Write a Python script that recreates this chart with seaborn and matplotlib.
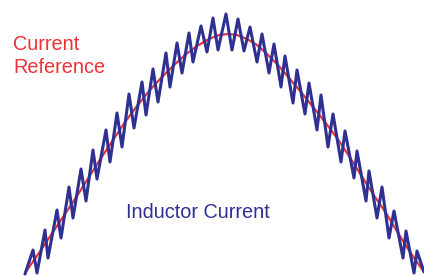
import matplotlib
matplotlib.use("Agg")
import matplotlib.pyplot as plt
import seaborn as sns
import pandas as pd

# current reference (smooth curve)
ref_t = [25, 41, 53, 65, 77, 89, 101, 113, 125, 137, 149, 161, 173, 185, 197, 209,
         219, 228, 237, 247, 257, 267, 278, 289, 301, 313, 325, 337, 349, 361, 373,
         386, 398, 410, 424]
ref_i = [3, 26, 44, 62, 80, 99, 118, 136, 154, 170, 185, 198, 210, 221, 230, 237,
         241, 242, 241, 237, 231, 222, 211, 198, 184, 169, 154, 138, 120, 101, 82,
         63, 43, 24, 4]

# inductor current ripple: switching vertices (peaks / valleys)
ind_t = [25, 33, 37, 45, 48, 57, 61, 69, 73, 81, 86, 93, 97, 106, 110, 117, 122,
         129, 134, 142, 146, 153, 158, 166, 170, 177, 182, 189, 193, 201, 207, 213,
         218, 226, 232, 238, 244, 250, 257, 262, 269, 274, 281, 285, 293, 297, 305,
         309, 317, 321, 328, 333, 341, 345, 354, 357, 366, 369, 377, 382, 389, 394,
         403, 406, 414, 417, 424]
ind_i = [2, 26, 3, 46, 18, 66, 38, 89, 58, 107, 75, 126, 97, 146, 114, 163, 129,
         182, 148, 194, 161, 207, 174, 223, 189, 233, 203, 243, 214, 250, 224, 258,
         226, 262, 226, 257, 225, 249, 214, 242, 203, 232, 189, 220, 173, 206, 162,
         193, 146, 181, 129, 162, 114, 145, 98, 125, 75, 105, 58, 89, 38, 65, 18,
         45, 3, 25, 4]

RED = "#ec3237"
BLUE = "#2e3192"

sns.set_theme(style="white")
plt.rcParams["font.family"] = ["Liberation Sans", "DejaVu Sans"]

df_ref = pd.DataFrame({"t": ref_t, "i": ref_i})
df_ind = pd.DataFrame({"t": ind_t, "i": ind_i})

fig = plt.figure(figsize=(4.24, 2.76), dpi=100)
ax = fig.add_axes([0, 0, 1, 1])

sns.lineplot(data=df_ref, x="t", y="i", ax=ax, color=RED, linewidth=1.6,
             estimator=None, sort=False, zorder=2)
sns.lineplot(data=df_ind, x="t", y="i", ax=ax, color=BLUE, linewidth=2.2,
             estimator=None, sort=False, zorder=3)

ax.set_xlim(0, 424)
ax.set_ylim(0, 276)
ax.axis("off")

ax.text(13.5, 226, "Current", color=RED, fontsize=14.3, va="baseline", ha="left")
ax.text(13, 203, "Reference", color=RED, fontsize=14.3, va="baseline", ha="left")
ax.text(126.5, 58, "Inductor Current", color=BLUE, fontsize=14.3, va="baseline", ha="left")

fig.savefig("out.png", dpi=100, facecolor="white")
